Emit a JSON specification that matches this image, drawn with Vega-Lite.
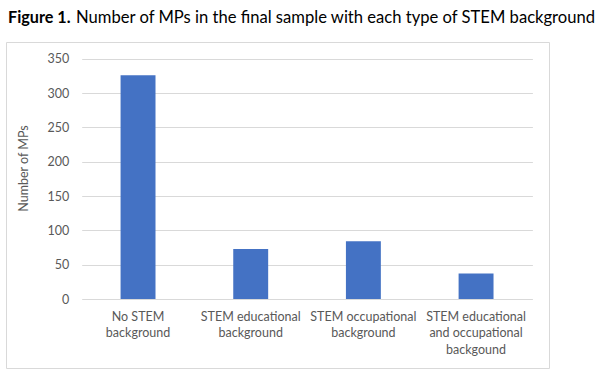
{
  "$schema": "https://vega.github.io/schema/vega-lite/v6.json",
  "padding": {"left": 5, "top": 9, "right": 0, "bottom": 0},
  "background": "white",
  "title": {"text": "Number of MPs in the final sample with each type of STEM background", "anchor": "start", "fontWeight": "normal", "font": "Lato", "fontSize": 16.6, "color": "#000000", "offset": -17, "frame": "group", "dx": 70},
  "config": {"view": {"stroke": "#d9d9d9", "strokeWidth": 1}, "font": "Lato", "concat": {"spacing": 0}},
  "vconcat": [
    {
      "width": 543,
      "height": 326,
      "title": {"text": "Figure 1.", "anchor": "start", "fontWeight": "bold", "font": "Lato", "fontSize": 16.2, "color": "#000000", "dx": 2, "offset": 16},
      "data": {"values": [
        {"background": "No STEM background", "mps": 326},
        {"background": "STEM educational background", "mps": 73},
        {"background": "STEM occupational background", "mps": 84},
        {"background": "STEM educational and occupational backgound", "mps": 37}
      ]},
      "mark": {"type": "bar", "color": "#4472C4"},
      "encoding": {
        "x": {
          "field": "background", "type": "nominal", "sort": null,
          "scale": {"range": [75.7, 526.4], "paddingInner": 0.69, "paddingOuter": 0.345},
          "axis": {
            "title": null, "orient": "bottom", "offset": -69, "domain": false, "ticks": false,
            "labelAngle": 0, "labelPadding": 11, "labelFontSize": 12.5, "labelColor": "#595959",
            "labelLineHeight": 16.5, "labelFont": "Lato", "labelBaseline": "top",
            "labelExpr": "datum.label == 'No STEM background' ? ['No STEM', 'background'] : datum.label == 'STEM educational background' ? ['STEM educational', 'background'] : datum.label == 'STEM occupational background' ? ['STEM occupational', 'background'] : ['STEM educational', 'and occupational', 'backgound']"
          }
        },
        "y": {
          "field": "mps", "type": "quantitative",
          "scale": {"domain": [0, 350], "range": [257, 16.7], "nice": false, "zero": true},
          "axis": {
            "title": "Number of MPs", "orient": "left", "offset": -75.7, "domain": false, "ticks": false,
            "values": [0, 50, 100, 150, 200, 250, 300, 350],
            "labelPadding": 13, "labelFontSize": 12.5, "labelColor": "#595959", "labelFont": "Lato",
            "titleFontWeight": "normal", "titleFontSize": 12.5, "titleColor": "#595959", "titleFont": "Lato", "titlePadding": 16, "titleY": 126,
            "grid": true, "gridColor": "#d9d9d9", "gridWidth": 1
          }
        }
      }
    }
  ]
}
